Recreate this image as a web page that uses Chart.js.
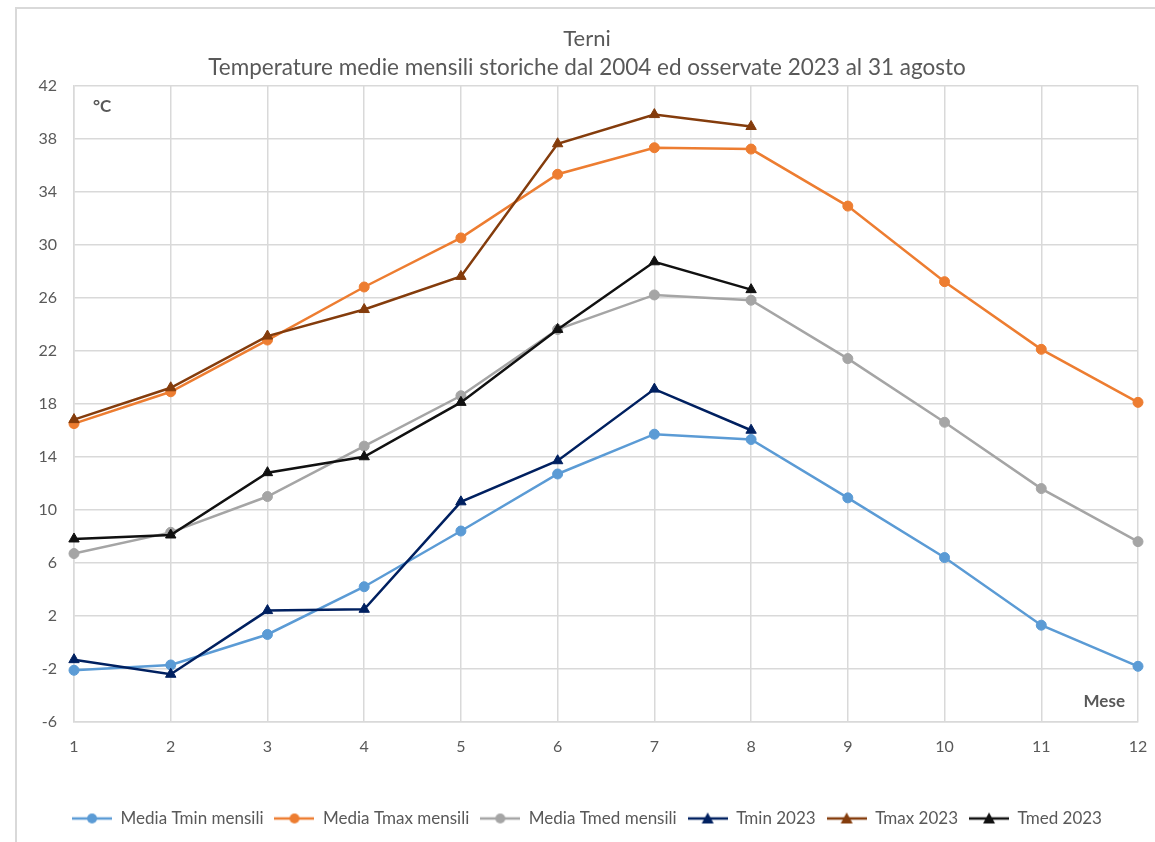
<!DOCTYPE html>
<html>
<head>
<meta charset="utf-8">
<script src="https://cdn.jsdelivr.net/npm/chart.js@4.4.0/dist/chart.umd.min.js"></script>
<style>
  body { margin: 0; background: #fff; }
  #frame { position: absolute; left: 15px; top: 7px; width: 1200px; height: 900px;
           border-top: 2px solid #d9d9d9; border-left: 2px solid #d9d9d9; }
  #myChart { position: absolute; left: 0; top: 0; }
</style>
</head>
<body>
<div id="frame"></div>
<canvas id="myChart" width="1155" height="842"></canvas>
<script>
// months on the x axis
var mesi = ['1','2','3','4','5','6','7','8','9','10','11','12'];

// historical monthly means since 2004
var mediaTmin = [-2.1, -1.7, 0.6, 4.2, 8.4, 12.7, 15.7, 15.3, 10.9, 6.4, 1.3, -1.8];
var mediaTmax = [16.5, 18.9, 22.8, 26.8, 30.5, 35.3, 37.3, 37.2, 32.9, 27.2, 22.1, 18.1];
var mediaTmed = [6.7, 8.3, 11.0, 14.8, 18.6, 23.6, 26.2, 25.8, 21.4, 16.6, 11.6, 7.6];

// observed 2023, up to 31 August
var tmin2023 = [-1.3, -2.4, 2.4, 2.5, 10.6, 13.7, 19.1, 16.0];
var tmax2023 = [16.8, 19.2, 23.1, 25.1, 27.6, 37.6, 39.8, 38.9];
var tmed2023 = [7.8, 8.1, 12.8, 14.0, 18.1, 23.6, 28.7, 26.6];

var yTicks = [-6, -2, 2, 6, 10, 14, 18, 22, 26, 30, 34, 38, 42];

var FONT = 'Lato, "Liberation Sans", sans-serif';
var GREY_TXT = '#595959';
var GRID = '#d9d9d9';

// legend icon: short line with the marker in the middle, like excel
function legendIcon(color, shape){
    var c = document.createElement('canvas');
    c.width = 40; c.height = 14;
    var g = c.getContext('2d');
    g.strokeStyle = color; g.fillStyle = color; g.lineWidth = 2.5;
    g.beginPath(); g.moveTo(0, 7); g.lineTo(40, 7); g.stroke();
    g.beginPath();
    if (shape == 'circle'){
        g.arc(20, 7, 5, 0, Math.PI*2);
    } else {
        g.moveTo(20, 1); g.lineTo(26, 12); g.lineTo(14, 12); g.closePath();
    }
    g.fill();
    return c;
}

function serie(label, data, color, shape, idx){
    return {
        label: label,
        data: data,
        borderColor: color,
        backgroundColor: color,
        borderWidth: 2.5,
        pointStyle: shape,
        pointRadius: shape == 'circle' ? 5 : 6,
        pointBorderWidth: 1,
        tension: 0,
        order: 10 - idx,
        icon: legendIcon(color, shape)
    };
}

var datasets = [
    serie('Media Tmin mensili', mediaTmin, '#5b9bd5', 'circle', 0),
    serie('Media Tmax mensili', mediaTmax, '#ed7d31', 'circle', 1),
    serie('Media Tmed mensili', mediaTmed, '#a5a5a5', 'circle', 2),
    serie('Tmin 2023', tmin2023, '#002060', 'triangle', 3),
    serie('Tmax 2023', tmax2023, '#843c0c', 'triangle', 4),
    serie('Tmed 2023', tmed2023, '#111111', 'triangle', 5)
];

// axis captions inside the plot (°C and Mese)
var axisCaptions = {
    id: 'axisCaptions',
    afterDraw: function(chart){
        var ctx = chart.ctx, a = chart.chartArea;
        ctx.save();
        ctx.fillStyle = GREY_TXT;
        ctx.font = 'bold 17px ' + FONT;
        ctx.textBaseline = 'middle';
        ctx.textAlign = 'left';
        ctx.fillText('°C', a.left + 19, a.top + 21);
        ctx.textAlign = 'right';
        ctx.fillText('Mese', a.right - 13, a.bottom - 20);
        ctx.restore();
    }
};

var ctx = document.getElementById('myChart').getContext('2d');
var myChart = new Chart(ctx, {
    type: 'line',
    data: { labels: mesi, datasets: datasets },
    plugins: [axisCaptions],
    options: {
        responsive: false,
        animation: false,
        layout: { padding: { top: 26, right: 17, bottom: 5, left: 36 } },
        scales: {
            x: {
                offset: false,
                grid: { color: GRID, lineWidth: 1.5, drawTicks: true, tickLength: 14, tickColor: 'transparent' },
                border: { color: GRID, width: 1.5 },
                ticks: { color: GREY_TXT, font: { family: FONT, size: 16 }, padding: 1, maxRotation: 0 },
                afterFit: function(scale){ scale.height = 77; }
            },
            y: {
                min: -6, max: 42,
                afterBuildTicks: function(scale){
                    scale.ticks = yTicks.map(function(v){ return { value: v }; });
                },
                grid: { color: GRID, lineWidth: 1.5, drawTicks: false },
                border: { color: GRID, width: 1.5 },
                ticks: { color: GREY_TXT, font: { family: FONT, size: 16 }, padding: 17 },
                afterFit: function(scale){ scale.width = 38; }
            }
        },
        plugins: {
            title: {
                display: true, text: 'Terni', color: GREY_TXT,
                font: { family: FONT, size: 22, weight: 'normal' },
                padding: { top: 0, bottom: 2 }
            },
            subtitle: {
                display: true,
                text: 'Temperature medie mensili storiche dal 2004 ed osservate 2023 al 31 agosto',
                color: GREY_TXT,
                font: { family: FONT, size: 22.5 },
                padding: { top: 0, bottom: 4 }
            },
            legend: {
                position: 'bottom',
                labels: {
                    usePointStyle: true,
                    pointStyleWidth: 40,
                    boxHeight: 14,
                    padding: 11,
                    color: GREY_TXT,
                    font: { family: FONT, size: 17 },
                    generateLabels: function(chart){
                        return chart.data.datasets.map(function(ds, i){
                            return {
                                text: ds.label,
                                pointStyle: ds.icon,
                                fontColor: GREY_TXT,
                                fillStyle: 'transparent',
                                strokeStyle: 'transparent',
                                lineWidth: 0,
                                hidden: false,
                                datasetIndex: i
                            };
                        });
                    }
                }
            },
            tooltip: { enabled: false }
        }
    }
});
</script>
</body>
</html>
